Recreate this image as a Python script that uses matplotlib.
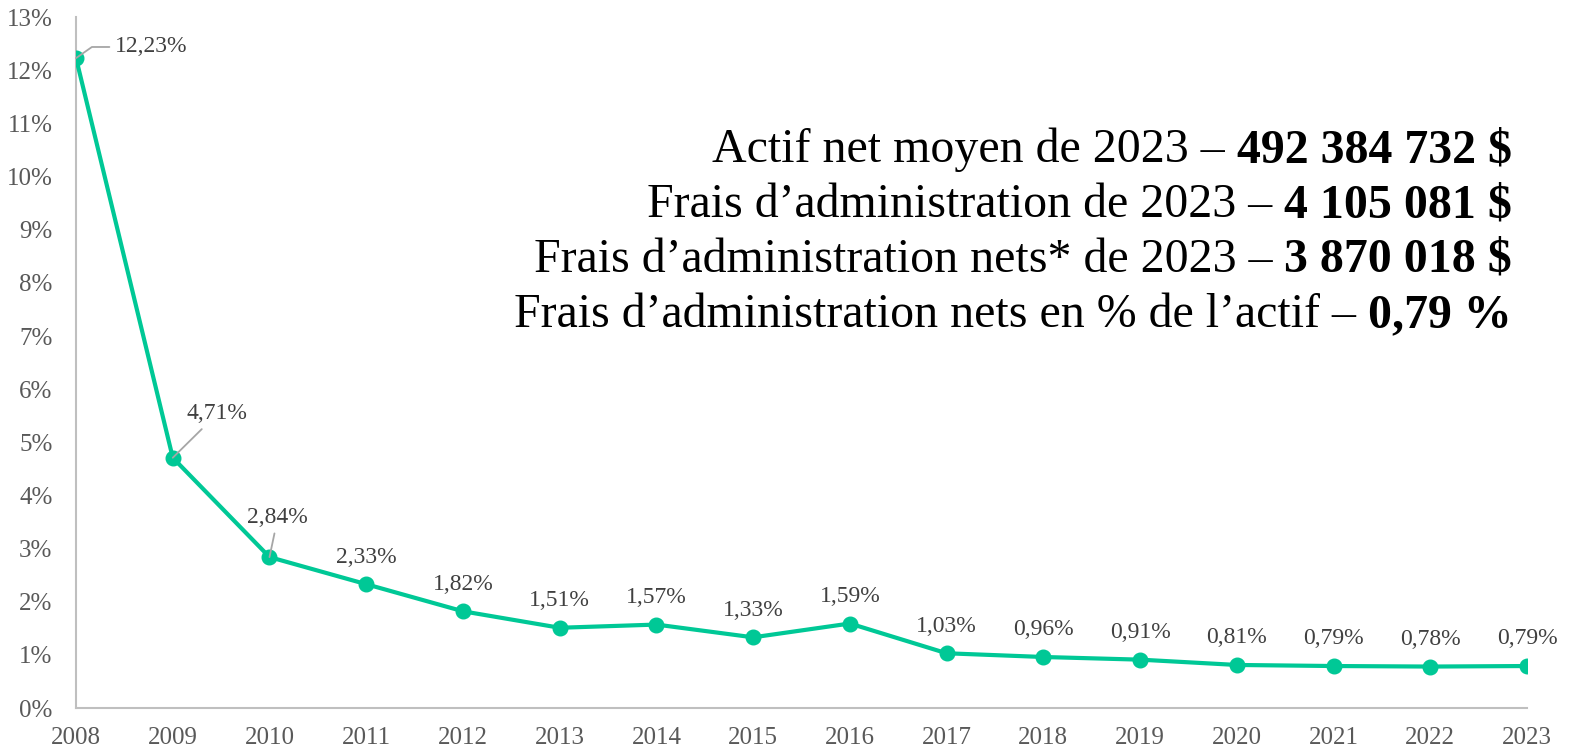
import matplotlib.pyplot as plt
import numpy as np

# Données
annees = list(range(2008, 2024))
frais_pct = [12.23, 4.71, 2.84, 2.33, 1.82, 1.51, 1.57, 1.33, 1.59,
             1.03, 0.96, 0.91, 0.81, 0.79, 0.78, 0.79]
etiquettes = ['12,23%', '4,71%', '2,84%', '2,33%', '1,82%', '1,51%', '1,57%', '1,33%',
              '1,59%', '1,03%', '0,96%', '0,91%', '0,81%', '0,79%', '0,78%', '0,79%']
lignes_texte = ['Actif net moyen de 2023 \u2013 ',
                'Frais d\u2019administration de 2023 \u2013 ',
                'Frais d\u2019administration nets* de 2023 \u2013 ',
                'Frais d\u2019administration nets en % de l\u2019actif \u2013 ']
lignes_gras = ['492 384 732 $', '4 105 081 $', '3 870 018 $', '0,79 %']

plt.rcParams['font.family'] = ['Liberation Serif', 'DejaVu Serif']

vert = '#00C896'
gris = '#595959'

fig = plt.figure(figsize=(15.71, 7.47), dpi=100)
ax = fig.add_axes([0.0484, 0.0522, 0.9236, 0.9248])

ax.plot(annees, frais_pct, color=vert, lw=3, marker='o', markersize=10.5, zorder=3)

ax.set_xlim(2008, 2023)
ax.set_ylim(0, 13)
ax.set_yticks(range(0, 14))
ax.set_yticklabels([f'{i}%' for i in range(0, 14)])
ax.set_xticks(annees)
ax.tick_params(axis='both', length=0, labelsize=18, colors=gris)
ax.tick_params(axis='y', pad=17)
ax.tick_params(axis='x', pad=14)
for cote in ['top', 'right']:
    ax.spines[cote].set_visible(False)
for cote in ['left', 'bottom']:
    ax.spines[cote].set_color('#BFBFBF')
    ax.spines[cote].set_linewidth(1.5)

# Étiquettes de données
decalages = {1: (32, 24), 2: (6, 21)}
for i, (x, y, lab) in enumerate(zip(annees, frais_pct, etiquettes)):
    if i == 0:
        ax.annotate(lab, xy=(x, y), xytext=(28, 8), textcoords='offset points',
                    ha='left', va='center', fontsize=17, color='#404040',
                    arrowprops=dict(arrowstyle='-', color='#A6A6A6', lw=1.3,
                                    connectionstyle='angle,angleA=0,angleB=35,rad=0',
                                    shrinkA=2, shrinkB=0))
    elif i in decalages:
        dx, dy = decalages[i]
        ax.annotate(lab, xy=(x, y), xytext=(dx, dy), textcoords='offset points',
                    ha='center', va='bottom', fontsize=17, color='#404040',
                    arrowprops=dict(arrowstyle='-', color='#A6A6A6', lw=1.3,
                                    shrinkA=2, shrinkB=0))
    else:
        ax.annotate(lab, xy=(x, y), xytext=(0, 12), textcoords='offset points',
                    ha='center', va='bottom', fontsize=17, color='#404040')

# Bloc de texte en haut à droite
bases = [0.783, 0.709, 0.636, 0.562]
for txt, gras, yy in zip(lignes_texte, lignes_gras, bases):
    t_gras = fig.text(0.9625, yy, gras, ha='right', va='baseline', fontsize=34.5,
                      fontweight='bold', color='black')
    ax.annotate(txt, xy=(0, 0), xycoords=t_gras, ha='right', va='bottom',
                fontsize=34.5, color='black')

fig.savefig('out.png', dpi=100)
